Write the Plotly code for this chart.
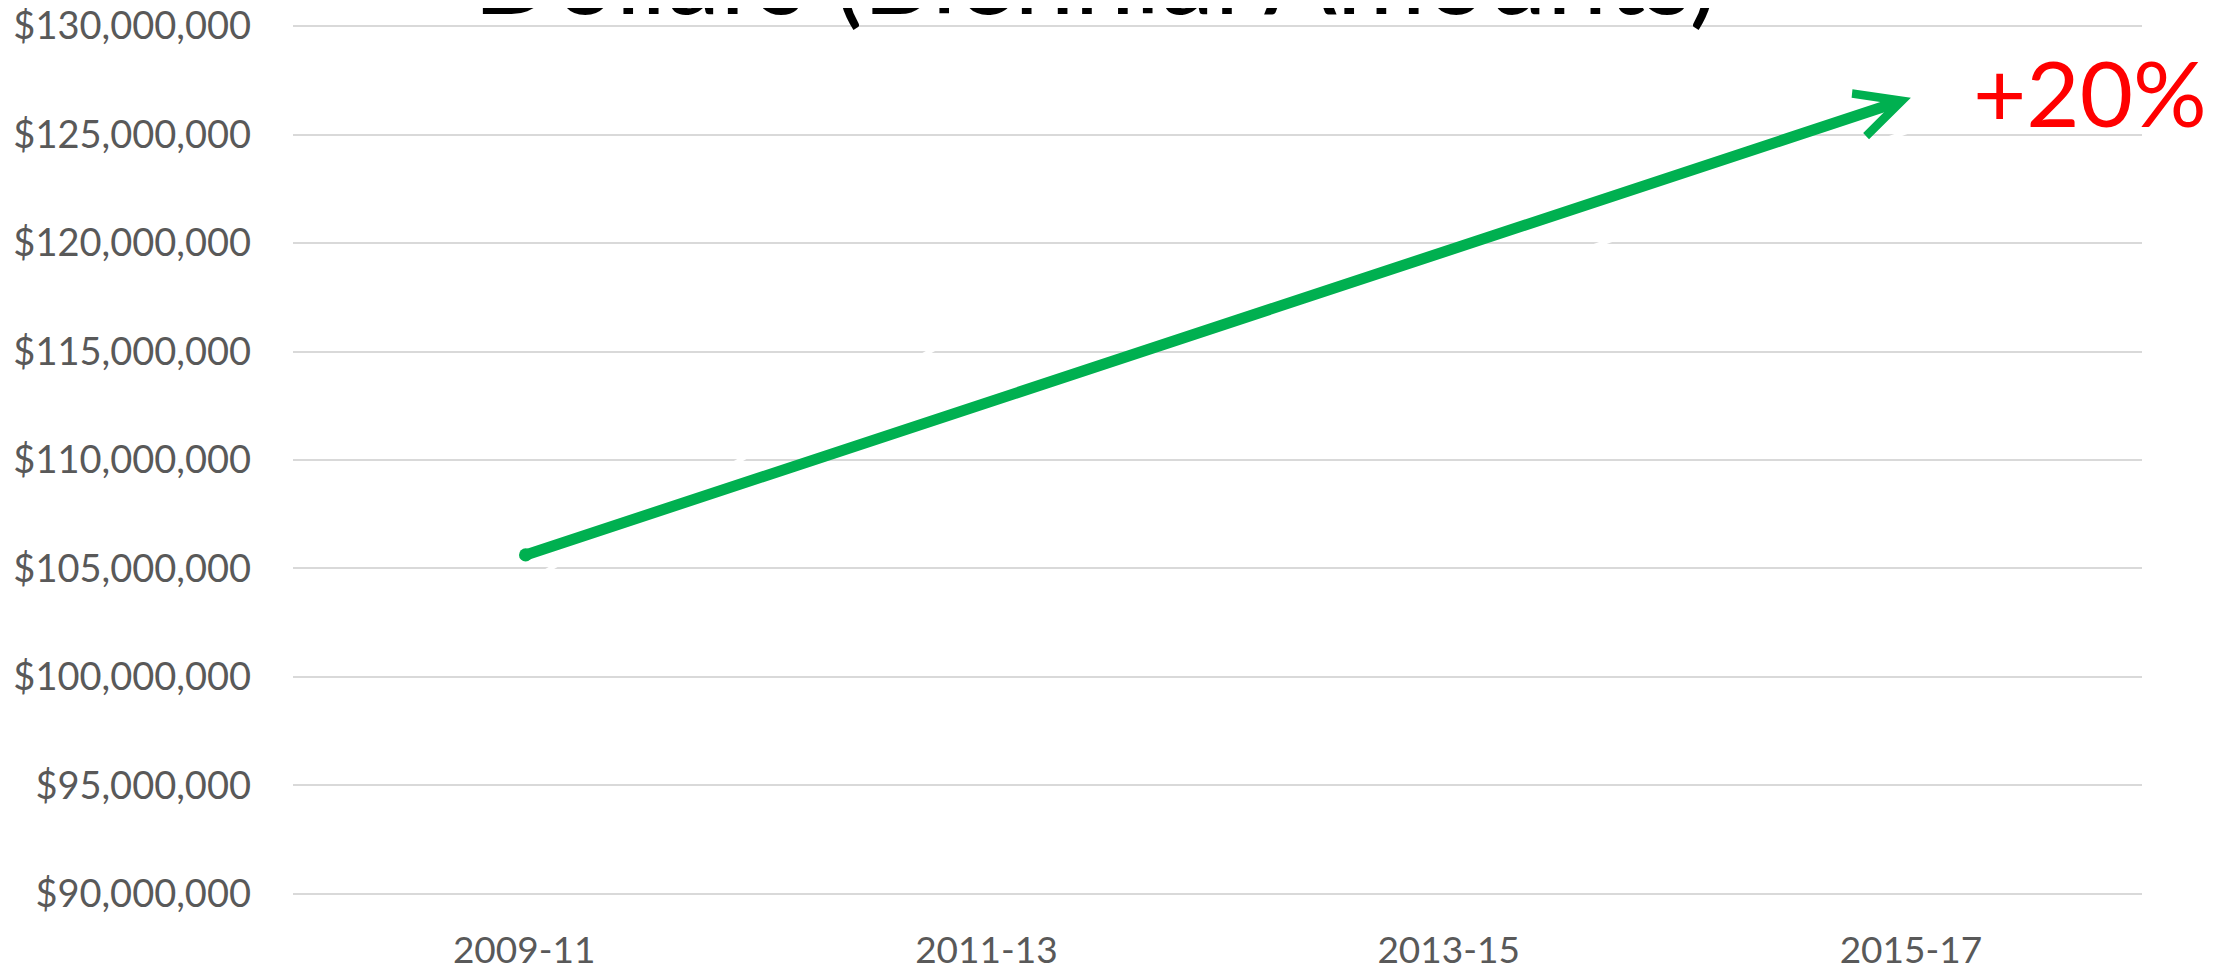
import plotly.graph_objects as go

categories = ["2009-11", "2011-13", "2013-15", "2015-17"]
values = [104.3e6, 116.5e6, 117.4e6, 125.2e6]
y_ticks = [90e6, 95e6, 100e6, 105e6, 110e6, 115e6, 120e6, 125e6, 130e6]
y_tick_labels = ["$90,000,000", "$95,000,000", "$100,000,000", "$105,000,000",
                 "$110,000,000", "$115,000,000", "$120,000,000", "$125,000,000",
                 "$130,000,000"]
arrow_start = 105.6e6
arrow_end = 126.7e6
title_text = "Dollars (Biennial Amounts)"
change_label = "+20%"

fig = go.Figure()
fig.add_trace(go.Scatter(
    x=categories, y=values, mode="lines",
    line=dict(color="#ffffff", width=4.5),
    showlegend=False, hoverinfo="skip",
))

fig.add_annotation(
    x=categories[3], y=arrow_end, xref="x", yref="y",
    ax=categories[0], ay=arrow_start, axref="x", ayref="y",
    showarrow=True, text="",
    arrowcolor="#00b050", arrowwidth=11, arrowhead=5, arrowsize=0.8,
    arrowside="end+start", startarrowhead=6, startarrowsize=0.3,
)

fig.add_annotation(
    x=3.387, y=127.0e6, xref="x", yref="y",
    text=change_label, showarrow=False,
    font=dict(family="Lato", size=92, color="#ff0000"),
    xanchor="center", yanchor="middle",
)

fig.add_annotation(
    x=0.434, y=0.983, xref="paper", yref="paper",
    text=title_text, showarrow=False,
    font=dict(family="Lato", size=108, color="#000000"),
    xanchor="center", yanchor="bottom",
)

fig.update_layout(
    width=2239, height=966, autosize=False,
    margin=dict(l=285, r=105, t=16, b=78),
    plot_bgcolor="#ffffff", paper_bgcolor="#ffffff",
    font=dict(family="Lato", size=38, color="#595959"),
    showlegend=False,
)
fig.update_xaxes(
    type="category", range=[-0.5, 3.5], automargin=False,
    showgrid=False, showline=False, zeroline=False, ticks="",
    ticklabelstandoff=29,
    tickfont=dict(family="Lato", size=37, color="#595959"),
)
fig.update_yaxes(
    range=[89.9e6, 130.1e6], tickvals=y_ticks, ticktext=y_tick_labels,
    automargin=False, ticklabeloverflow="allow",
    showgrid=True, gridcolor="#d9d9d9", gridwidth=2,
    showline=False, zeroline=False, ticks="",
    ticklabelstandoff=41,
    tickfont=dict(family="Lato", size=38, color="#595959"),
)

fig.write_html("out.html")
